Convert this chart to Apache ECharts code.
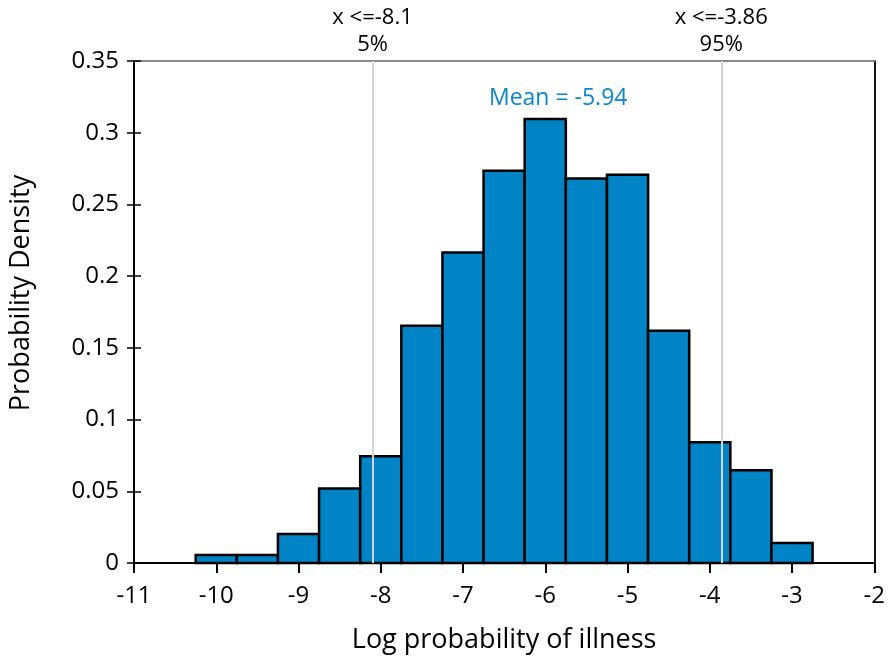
<!DOCTYPE html>
<html><head><meta charset="utf-8">
<script src="https://cdn.jsdelivr.net/npm/echarts@6/dist/echarts.min.js"></script>
<style>html,body{margin:0;padding:0;background:#fff}#c{width:888px;height:659px}</style>
</head><body><div id="c"></div>
<script>
const binCenters = [-10, -9.5, -9, -8.5, -8, -7.5, -7, -6.5, -6, -5.5, -5, -4.5, -4, -3.5, -3];
const binWidth = 0.5;
const density = [0.0055, 0.0055, 0.0202, 0.052, 0.0745, 0.1655, 0.2165, 0.2735, 0.3095, 0.268, 0.2707, 0.162, 0.0842, 0.0647, 0.0139];
const percentileX = [-8.1, -3.86];
const percentileLabels = ['x <=-8.1\n5%', 'x <=-3.86\n95%'];
const meanValue = -5.94;
const meanLabelY = 0.3255;
const meanLabel = 'Mean = -5.94';

const FONT = 'Open Sans';
const chart = echarts.init(document.getElementById('c'), null, {renderer: 'canvas'});
const barData = binCenters.map((c, i) => [c - binWidth / 2, c + binWidth / 2, density[i]]);

chart.setOption({
  animation: false,
  backgroundColor: '#fff',
  textStyle: {fontFamily: FONT},
  grid: {left: 133, right: 11, top: 61, bottom: 95},
  xAxis: [{
    type: 'value', min: -11, max: -2, interval: 1,
    axisLine: {onZero: false, lineStyle: {color: '#000', width: 2}},
    axisTick: {show: true, length: 10, lineStyle: {color: '#000', width: 2}},
    axisLabel: {color: '#000', fontSize: 24, fontFamily: FONT, margin: 21},
    splitLine: {show: false},
    name: 'Log probability of illness', nameLocation: 'middle', nameGap: 64,
    nameTextStyle: {color: '#000', fontSize: 27, fontFamily: FONT}
  }, {
    type: 'value', position: 'top', min: -11, max: -2,
    axisLine: {show: true, onZero: false, lineStyle: {color: '#888', width: 2}},
    axisTick: {show: false}, axisLabel: {show: false}, splitLine: {show: false}
  }],
  yAxis: [{
    type: 'value', min: 0, max: 0.35, interval: 0.05,
    axisLine: {show: true, onZero: false, lineStyle: {color: '#000', width: 2}},
    axisTick: {show: true, length: 7, lineStyle: {color: '#000', width: 1.5}},
    axisLabel: {color: '#000', fontSize: 24, fontFamily: FONT, margin: 15},
    splitLine: {show: false},
    name: 'Probability Density', nameLocation: 'middle', nameGap: 99,
    nameTextStyle: {color: '#000', fontSize: 27, fontFamily: FONT, padding: [0, 0, 0, 38]}
  }, {
    type: 'value', position: 'left', min: 0, max: 0.35, interval: 0.05,
    axisLine: {show: false, onZero: false},
    axisTick: {show: true, inside: true, length: 7, lineStyle: {color: '#000', width: 1.5}},
    axisLabel: {show: false}, splitLine: {show: false}
  }, {
    type: 'value', position: 'right', min: 0, max: 0.35,
    axisLine: {show: true, onZero: false, lineStyle: {color: '#111', width: 2}},
    axisTick: {show: false}, axisLabel: {show: false}, splitLine: {show: false}
  }],
  series: [{
    type: 'custom',
    data: barData,
    encode: {x: [0, 1], y: 2},
    renderItem: function (params, api) {
      const p0 = api.coord([api.value(0), 0]);
      const p1 = api.coord([api.value(1), api.value(2)]);
      return {
        type: 'rect',
        shape: {x: p0[0], y: p1[1], width: p1[0] - p0[0], height: p0[1] - p1[1]},
        style: {fill: '#0084c6', stroke: '#000', lineWidth: 2.5}
      };
    },
    markLine: {
      silent: true, symbol: ['none', 'none'],
      lineStyle: {color: '#d4d4d4', width: 2, type: 'solid'},
      label: {show: true, position: 'end', color: '#000', fontSize: 22, fontFamily: FONT,
              lineHeight: 27, distance: 3, formatter: p => p.name},
      data: percentileX.map((x, i) => ({xAxis: x, name: percentileLabels[i]}))
    }
  }, {
    type: 'scatter',
    data: [[meanValue, meanLabelY]],
    symbolSize: 0,
    itemStyle: {opacity: 1},
    label: {show: true, position: 'inside', offset: [8, 2], formatter: meanLabel, color: '#0a86c8', opacity: 1, fontSize: 23, fontFamily: FONT},
    z: 5
  }]
});
</script></body></html>
